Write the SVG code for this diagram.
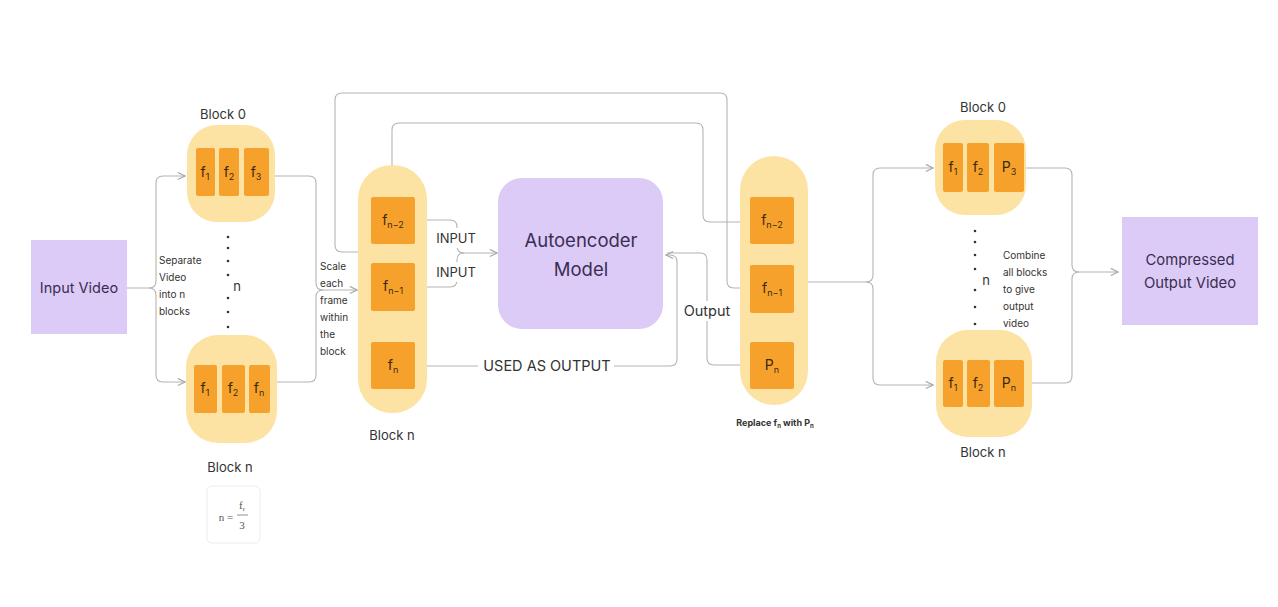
<svg xmlns="http://www.w3.org/2000/svg" width="1278" height="607" viewBox="0 0 1278 607">
<defs>
<style>
.bg{fill:#ffffff}
.purple{fill:#dccbf7}
.blk{fill:#fde3a3}
.frm{fill:#f6a12b}
.t{font-family:Inter,"Liberation Sans",sans-serif;fill:#333333}
.pt{font-family:Inter,"Liberation Sans",sans-serif;fill:#3a2d52}
.ft{font-family:Inter,"Liberation Sans",sans-serif;fill:#3a2a10;font-size:14px;text-anchor:middle}
.sub{font-size:9px}
.c{fill:none;stroke:#b4b4b4;stroke-width:1.1}
.lbl{fill:#ffffff}
.dot{fill:#333333}
</style>
<marker id="ah" viewBox="0 0 10 10" refX="9" refY="5" markerWidth="9" markerHeight="9" markerUnits="userSpaceOnUse" orient="auto">
<path d="M1,1 L9,5 L1,9" fill="none" stroke="#a8a8a8" stroke-width="1.3"/>
</marker>
</defs>
<rect class="bg" x="0" y="0" width="1278" height="607"/>

<g id="connectors">
<path class="c" d="M127,288 H149 Q156,288 156,281 V183 Q156,176 163,176 H185" marker-end="url(#ah)"/>
<path class="c" d="M149,288 Q156,288 156,295 V375 Q156,382 163,382 H185" marker-end="url(#ah)"/>
<path class="c" d="M275,176 H309 Q316,176 316,183 V283 Q316,290 323,290 H357" marker-end="url(#ah)"/>
<path class="c" d="M277,382 H309 Q316,382 316,375 V297 Q316,290 323,290"/>
<path class="c" d="M415,220 H450 Q457,220 457,227 V246 Q457,253 464,253 H497" marker-end="url(#ah)"/>
<path class="c" d="M415,287 H450 Q457,287 457,280 V260 Q457,253 464,253"/>
<path class="c" d="M415,366 H670 Q677,366 677,359 V262 Q677,255 670,255 H666" marker-end="url(#ah)"/>
<path class="c" d="M667,253 H700 Q707,253 707,260 V358 Q707,365 714,365 H748" marker-end="url(#ah)"/>
<path class="c" d="M392,263 V259 Q392,252 385,252 H342 Q335,252 335,245 V100 Q335,93 342,93 H720 Q727,93 727,100 V281 Q727,288 734,288 H748" marker-end="url(#ah)"/>
<path class="c" d="M392,197 V130 Q392,123 399,123 H696 Q703,123 703,130 V215 Q703,222 710,222 H748" marker-end="url(#ah)"/>
<path class="c" d="M808,282 H866 Q873,282 873,275 V175 Q873,168 880,168 H933" marker-end="url(#ah)"/>
<path class="c" d="M866,282 Q873,282 873,289 V378 Q873,385 880,385 H933" marker-end="url(#ah)"/>
<path class="c" d="M1024,168 H1065 Q1072,168 1072,175 V265 Q1072,272 1079,272 H1118" marker-end="url(#ah)"/>
<path class="c" d="M1032,383 H1065 Q1072,383 1072,376 V279 Q1072,272 1079,272"/>
<rect class="lbl" x="432" y="228" width="48" height="20"/>
<rect class="lbl" x="432" y="262" width="48" height="20"/>
<rect class="lbl" x="478" y="356" width="136" height="20"/>
<rect class="lbl" x="680" y="301" width="54" height="20"/>
</g>

<g id="input-video">
<rect class="purple" x="31" y="240" width="96" height="94"/>
<text class="pt" x="79" y="293" font-size="14.5" text-anchor="middle">Input Video</text>
</g>

<g id="left-block0">
<text class="t" x="223" y="119" font-size="13" text-anchor="middle">Block 0</text>
<rect class="blk" x="187" y="125" width="88" height="97" rx="30"/>
<rect class="frm" x="196" y="148" width="19" height="48" rx="2"/>
<rect class="frm" x="219" y="148" width="20" height="48" rx="2"/>
<rect class="frm" x="244" y="148" width="25" height="48" rx="2"/>
<text class="ft" x="205" y="177">f<tspan class="sub" dy="3">1</tspan></text>
<text class="ft" x="229" y="177">f<tspan class="sub" dy="3">2</tspan></text>
<text class="ft" x="256" y="177">f<tspan class="sub" dy="3">3</tspan></text>
</g>

<g id="left-dots">
<circle class="dot" cx="228" cy="237" r="1.3"/>
<circle class="dot" cx="228" cy="248" r="1.3"/>
<circle class="dot" cx="228" cy="261" r="1.3"/>
<circle class="dot" cx="228" cy="275" r="1.3"/>
<circle class="dot" cx="228" cy="298" r="1.3"/>
<circle class="dot" cx="228" cy="312" r="1.3"/>
<circle class="dot" cx="228" cy="327" r="1.3"/>
<text class="t" x="237" y="291" font-size="13" text-anchor="middle">n</text>
<text class="t" font-size="10" x="159" y="264">Separate</text>
<text class="t" font-size="10" x="159" y="281">Video</text>
<text class="t" font-size="10" x="159" y="298">into n</text>
<text class="t" font-size="10" x="159" y="315">blocks</text>
</g>

<g id="left-blockn">
<rect class="blk" x="186" y="335" width="91" height="108" rx="32"/>
<rect class="frm" x="194" y="365" width="23" height="48" rx="2"/>
<rect class="frm" x="222" y="365" width="23" height="48" rx="2"/>
<rect class="frm" x="249" y="365" width="21" height="48" rx="2"/>
<text class="ft" x="205" y="393">f<tspan class="sub" dy="3">1</tspan></text>
<text class="ft" x="233" y="393">f<tspan class="sub" dy="3">2</tspan></text>
<text class="ft" x="259" y="393">f<tspan class="sub" dy="3">n</tspan></text>
<text class="t" x="230" y="472" font-size="13" text-anchor="middle">Block n</text>
</g>

<g id="formula">
<rect x="207" y="486" width="53" height="57" rx="5" fill="#ffffff" stroke="#ececec" stroke-width="1"/>
<text x="226" y="521" font-family="'Liberation Serif',serif" font-size="11" fill="#555555" text-anchor="middle">n =</text>
<text x="242" y="509" font-family="'Liberation Serif',serif" font-size="11" fill="#555555" text-anchor="middle">f<tspan font-size="7" dy="2">r</tspan></text>
<line x1="237" y1="515" x2="248" y2="515" stroke="#777777" stroke-width="0.8"/>
<text x="242" y="529" font-family="'Liberation Serif',serif" font-size="11" fill="#555555" text-anchor="middle">3</text>
</g>

<g id="scale-label">
<text class="t" font-size="10" x="320" y="270">Scale</text>
<text class="t" font-size="10" x="320" y="287">each</text>
<text class="t" font-size="10" x="320" y="304">frame</text>
<text class="t" font-size="10" x="320" y="321">within</text>
<text class="t" font-size="10" x="320" y="338">the</text>
<text class="t" font-size="10" x="320" y="355">block</text>
</g>

<g id="mid-blockn">
<rect class="blk" x="358" y="165" width="69" height="248" rx="34"/>
<rect class="frm" x="371" y="197" width="44" height="47" rx="2"/>
<rect class="frm" x="371" y="263" width="44" height="48" rx="2"/>
<rect class="frm" x="371" y="342" width="44" height="47" rx="2"/>
<text class="ft" x="393" y="225">f<tspan class="sub" dy="3">n−2</tspan></text>
<text class="ft" x="393" y="291">f<tspan class="sub" dy="3">n−1</tspan></text>
<text class="ft" x="393" y="370">f<tspan class="sub" dy="3">n</tspan></text>
<text class="t" x="392" y="440" font-size="13" text-anchor="middle">Block n</text>
</g>

<g id="input-labels">
<text class="t" x="456" y="243" font-size="13" text-anchor="middle">INPUT</text>
<text class="t" x="456" y="277" font-size="13" text-anchor="middle">INPUT</text>
<text class="t" x="547" y="371" font-size="14.5" text-anchor="middle">USED AS OUTPUT</text>
<text class="t" x="707" y="316" font-size="14.5" text-anchor="middle">Output</text>
</g>

<g id="autoencoder">
<rect class="purple" x="498" y="178" width="165" height="151" rx="24"/>
<text class="pt" x="581" y="247" font-size="18.5" text-anchor="middle">Autoencoder</text>
<text class="pt" x="581" y="276" font-size="18.5" text-anchor="middle">Model</text>
</g>

<g id="right-column">
<rect class="blk" x="740" y="156" width="68" height="249" rx="34"/>
<rect class="frm" x="750" y="197" width="44" height="47" rx="2"/>
<rect class="frm" x="750" y="265" width="44" height="48" rx="2"/>
<rect class="frm" x="750" y="342" width="44" height="47" rx="2"/>
<text class="ft" x="772" y="225">f<tspan class="sub" dy="3">n−2</tspan></text>
<text class="ft" x="772" y="293">f<tspan class="sub" dy="3">n−1</tspan></text>
<text class="ft" x="772" y="370">P<tspan class="sub" dy="3">n</tspan></text>
<text class="t" x="775" y="426" font-size="9" font-weight="bold" text-anchor="middle" fill="#222222">Replace f<tspan font-size="6" dy="2">n</tspan><tspan dy="-2"> with P</tspan><tspan font-size="6" dy="2">n</tspan></text>
</g>

<g id="right-block0">
<text class="t" x="983" y="112" font-size="13" text-anchor="middle">Block 0</text>
<rect class="blk" x="935" y="120" width="91" height="95" rx="30"/>
<rect class="frm" x="943" y="143" width="20" height="49" rx="2"/>
<rect class="frm" x="967" y="143" width="22" height="49" rx="2"/>
<rect class="frm" x="994" y="143" width="30" height="49" rx="2"/>
<text class="ft" x="953" y="172">f<tspan class="sub" dy="3">1</tspan></text>
<text class="ft" x="978" y="172">f<tspan class="sub" dy="3">2</tspan></text>
<text class="ft" x="1009" y="172">P<tspan class="sub" dy="3">3</tspan></text>
</g>

<g id="right-dots">
<circle class="dot" cx="975" cy="231" r="1.3"/>
<circle class="dot" cx="975" cy="242" r="1.3"/>
<circle class="dot" cx="975" cy="255" r="1.3"/>
<circle class="dot" cx="975" cy="269" r="1.3"/>
<circle class="dot" cx="975" cy="290" r="1.3"/>
<circle class="dot" cx="975" cy="307" r="1.3"/>
<circle class="dot" cx="975" cy="324" r="1.3"/>
<text class="t" x="986" y="285" font-size="13" text-anchor="middle">n</text>
<text class="t" font-size="10" x="1003" y="259">Combine</text>
<text class="t" font-size="10" x="1003" y="276">all blocks</text>
<text class="t" font-size="10" x="1003" y="293">to give</text>
<text class="t" font-size="10" x="1003" y="310">output</text>
<text class="t" font-size="10" x="1003" y="327">video</text>
</g>

<g id="right-blockn">
<rect class="blk" x="936" y="330" width="96" height="107" rx="32"/>
<rect class="frm" x="943" y="360" width="20" height="47" rx="2"/>
<rect class="frm" x="967" y="360" width="23" height="47" rx="2"/>
<rect class="frm" x="994" y="360" width="30" height="47" rx="2"/>
<text class="ft" x="953" y="388">f<tspan class="sub" dy="3">1</tspan></text>
<text class="ft" x="978" y="388">f<tspan class="sub" dy="3">2</tspan></text>
<text class="ft" x="1009" y="388">P<tspan class="sub" dy="3">n</tspan></text>
<text class="t" x="983" y="457" font-size="13" text-anchor="middle">Block n</text>
</g>

<g id="compressed-output">
<rect class="purple" x="1122" y="217" width="136" height="108"/>
<text class="pt" x="1190" y="265" font-size="14.8" text-anchor="middle">Compressed</text>
<text class="pt" x="1190" y="288" font-size="14.8" text-anchor="middle">Output Video</text>
</g>
</svg>
